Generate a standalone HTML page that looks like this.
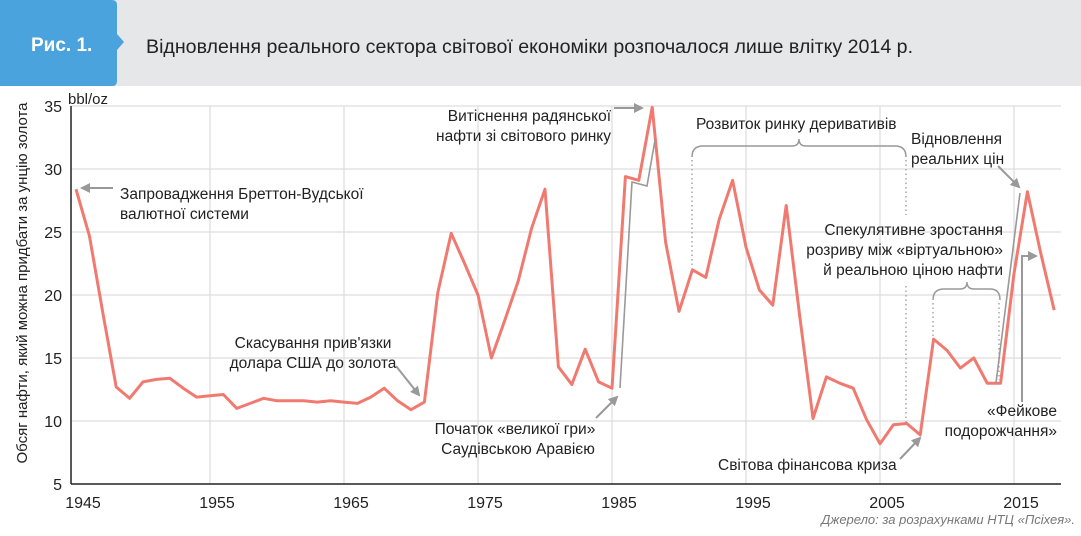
<!DOCTYPE html>
<html><head><meta charset="utf-8">
<style>
html,body{margin:0;padding:0;background:#fff;}
body{width:1081px;height:531px;overflow:hidden;font-family:"Liberation Sans",sans-serif;}
</style></head>
<body>
<svg width="1081" height="531" xmlns="http://www.w3.org/2000/svg" font-family="Liberation Sans, sans-serif">
<defs>
<marker id="ah" viewBox="0 0 10 10" refX="8" refY="5" markerWidth="5" markerHeight="5" orient="auto"><path d="M0,0 L10,5 L0,10 z" fill="#999"/></marker>
</defs>
<rect x="0" y="0" width="1081" height="86" fill="#e6e7e9"/>
<path d="M0,0 H112 Q117,0 117,5 V34 L124,42 L117,50 V81 Q117,86 112,86 H0 Z" fill="#4aa3dc"/>
<text x="31" y="51" font-size="19" font-weight="bold" fill="#fff">Рис. 1.</text>
<text x="146" y="53" font-size="19.6" fill="#222">Відновлення реального сектора світової економіки розпочалося лише влітку 2014 р.</text>
<g id="grid"></g>
<g id="axes"></g>
<g id="marks"></g>
<g font-size="15.5" fill="#222">
<text x="68" y="104" font-size="15">bbl/oz</text>
<text transform="translate(27,283) rotate(-90)" text-anchor="middle" font-size="15">Обсяг нафти, який можна придбати за унцію золота</text>
<text x="120" y="199">Запровадження Бреттон-Вудської</text>
<text x="120" y="219">валютної системи</text>
<text x="313" y="348" text-anchor="middle">Скасування прив'язки</text>
<text x="313" y="368" text-anchor="middle">долара США до золота</text>
<text x="611" y="121" text-anchor="end">Витіснення радянської</text>
<text x="611" y="141" text-anchor="end">нафти зі світового ринку</text>
<text x="515" y="434" text-anchor="middle">Початок «великої гри»</text>
<text x="518" y="454" text-anchor="middle">Саудівською Аравією</text>
<text x="696" y="129">Розвиток ринку деривативів</text>
<text x="911" y="144">Відновлення</text>
<text x="911" y="164">реальних цін</text>
<text x="1003" y="235" text-anchor="end">Спекулятивне зростання</text>
<text x="1003" y="255" text-anchor="end">розриву  між «віртуальною»</text>
<text x="1003" y="275" text-anchor="end">й реальною ціною нафти</text>
<text x="718" y="470">Світова фінансова криза</text>
<text x="1057" y="416" text-anchor="end">«Фейкове</text>
<text x="1057" y="436" text-anchor="end">подорожчання»</text>
<text x="1075" y="524" text-anchor="end" font-size="13" font-style="italic" fill="#777">Джерело: за розрахунками НТЦ «Псіхея».</text>
</g>
<g stroke="#999" stroke-width="2" fill="none">
<line x1="113" y1="188" x2="82" y2="188" marker-end="url(#ah)"/>
<line x1="396" y1="366" x2="419" y2="395" marker-end="url(#ah)"/>
<line x1="596" y1="418" x2="617" y2="397" marker-end="url(#ah)"/>
<line x1="614" y1="108" x2="642" y2="108" marker-end="url(#ah)"/>
<line x1="900" y1="459" x2="920" y2="438" marker-end="url(#ah)"/>
<line x1="998" y1="166" x2="1019" y2="187" marker-end="url(#ah)"/>
<polyline points="1022,402 1022,256 1036,256" marker-end="url(#ah)"/>
<polyline points="620,388 632,182 647,186 655,140" stroke-width="1.6"/>
<line x1="996" y1="383" x2="1020" y2="193" stroke-width="1.6"/>
<path d="M692,157 Q692,146 703,146 H792 Q799,146 799,139 Q799,146 806,146 H895 Q906,146 906,157" stroke-width="1.5"/>
<path d="M933,300 Q933,289 944,289 H960 Q967,289 967,282 Q967,289 974,289 H990 Q1000,289 1000,300" stroke-width="1.5"/>
<g stroke-dasharray="1.5,3" stroke-width="1.3">
<line x1="692" y1="160" x2="692" y2="268"/>
<line x1="906" y1="160" x2="906" y2="215"/>
<line x1="906" y1="286" x2="906" y2="425"/>
<line x1="933" y1="303" x2="933" y2="340"/>
<line x1="999" y1="303" x2="999" y2="380"/>
</g>
</g>
<script>
const years = [1945,1946,1947,1948,1949,1950,1951,1952,1953,1954,1955,1956,1957,1958,1959,1960,1961,1962,1963,1964,1965,1966,1967,1968,1969,1970,1971,1972,1973,1974,1975,1976,1977,1978,1979,1980,1981,1982,1983,1984,1985,1986,1987,1988,1989,1990,1991,1992,1993,1994,1995,1996,1997,1998,1999,2000,2001,2002,2003,2004,2005,2006,2007,2008,2009,2010,2011,2012,2013,2014,2015,2016,2017,2018];
const ratio = [28.4,24.7,18.6,12.7,11.8,13.1,13.3,13.4,12.6,11.9,12.0,12.1,11.0,11.4,11.8,11.6,11.6,11.6,11.5,11.6,11.5,11.4,11.9,12.6,11.6,10.9,11.5,20.2,24.9,22.5,20.0,15.0,18.0,21.1,25.3,28.4,14.3,12.9,15.7,13.1,12.6,29.4,29.1,34.9,24.2,18.7,22.0,21.4,26.0,29.1,23.8,20.4,19.2,27.1,18.4,10.2,13.5,13.0,12.6,10.1,8.2,9.7,9.8,8.9,16.5,15.6,14.2,15.0,13.0,13.0,21.7,28.2,23.3,18.8];
const yTicks = [5,10,15,20,25,30,35];
const xTicks = [1945,1955,1965,1975,1985,1995,2005,2015];
const NS='http://www.w3.org/2000/svg';
const X0=71, X1=1061, Y0=484, Y1=106;
function xs(y){return 76+(y-1945)*13.4;}
function ys(v){return Y0-(v-5)*(Y0-Y1)/30;}
function mk(tag,attrs,parent){const e=document.createElementNS(NS,tag);for(const k in attrs)e.setAttribute(k,attrs[k]);parent.appendChild(e);return e;}
const grid=document.getElementById('grid'), axes=document.getElementById('axes'), marks=document.getElementById('marks');
yTicks.forEach(t=>{
  if(t>5){const l=mk('line',{x1:X0,x2:X1,y1:ys(t),y2:ys(t),stroke:'#ddd','stroke-width':1.2},grid);
  
  }
  const tx=mk('text',{x:62,y:ys(t)+6,'text-anchor':'end','font-size':16,fill:'#222'},axes);
  tx.textContent=t;
  
  
});
xTicks.forEach(t=>{
  if(t>1945){const l=mk('line',{x1:xs(t),x2:xs(t),y1:Y1,y2:Y0,stroke:'#ddd','stroke-width':1.2},grid);
  
  }
  const tx=mk('text',{x:xs(t)+7,y:508,'text-anchor':'middle','font-size':16,fill:'#222'},axes);
  tx.textContent=t;
  
  
});
const ax=mk('line',{x1:X0,x2:X1,y1:Y0,y2:Y0,stroke:'#222','stroke-width':1.5},axes);


const ay=mk('line',{x1:X0,x2:X0,y1:Y1,y2:Y0,stroke:'#222','stroke-width':1.5},axes);


const pts=years.map((y,i)=>xs(y).toFixed(1)+','+ys(ratio[i]).toFixed(1)).join(' ');
const pl=mk('polyline',{points:pts,fill:'none',stroke:'#f07a70','stroke-width':3,'stroke-linejoin':'round'},marks);


</script>
</svg>
</body></html>
